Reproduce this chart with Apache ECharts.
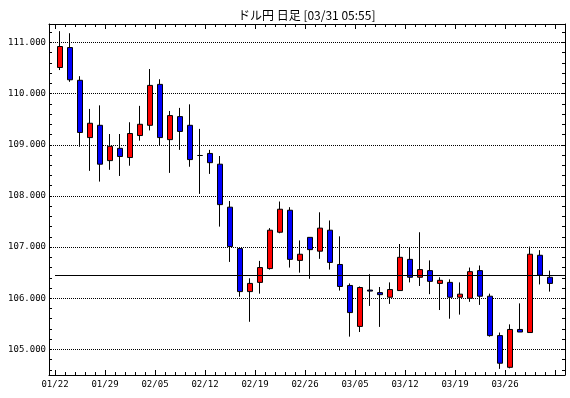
<!DOCTYPE html>
<html><head><meta charset="utf-8">
<script src="https://cdn.jsdelivr.net/npm/echarts@6.0.0/dist/echarts.min.js"></script>
<style>html,body{margin:0;padding:0;background:#fff}#c{width:570px;height:398px}</style>
</head><body><div id="c"></div>
<script>
const titleText = 'ドル円 日足 [03/31 05:55]';
const dates = ['01/22','01/23','01/24','01/25','01/26',
  '01/29','01/30','01/31','02/01','02/02',
  '02/05','02/06','02/07','02/08','02/09',
  '02/12','02/13','02/14','02/15','02/16',
  '02/19','02/20','02/21','02/22','02/23',
  '02/26','02/27','02/28','03/01','03/02',
  '03/05','03/06','03/07','03/08','03/09',
  '03/12','03/13','03/14','03/15','03/16',
  '03/19','03/20','03/21','03/22','03/23',
  '03/26','03/27','03/28','03/29','03/30'];
const openV  = [110.51,110.90,110.26,109.14,109.38, 108.69,108.93,108.75,109.18,109.38,
  110.18,109.10,109.55,109.38,108.79, 108.83,108.62,107.78,106.97,106.13,
  106.31,106.58,107.29,107.72,106.74, 107.19,106.92,107.33,106.66,106.25,
  105.45,106.16,106.11,106.02,106.15, 106.76,106.41,106.54,106.29,106.31,
  106.02,106.00,106.54,106.04,105.27, 104.65,105.39,105.33,106.84,106.41];
const closeV = [110.92,110.27,109.24,109.42,108.62, 108.97,108.77,109.22,109.40,110.16,
  109.14,109.57,109.26,108.71,108.79, 108.65,107.83,107.01,106.13,106.29,
  106.60,107.33,107.74,106.76,106.86, 106.95,107.37,106.70,106.23,105.72,
  106.21,106.14,106.07,106.17,106.80, 106.41,106.56,106.33,106.35,106.02,
  106.08,106.52,106.04,105.27,104.73, 105.39,105.34,106.86,106.45,106.29];
const lowV   = [110.46,110.23,108.96,108.49,108.28, 108.51,108.39,108.59,109.08,109.28,
  108.99,108.45,108.90,108.57,108.04, 108.43,107.40,106.71,106.03,105.54,
  106.09,106.56,107.27,106.60,106.50, 106.38,106.77,106.56,106.15,105.25,
  105.34,105.85,105.44,105.89,106.15, 106.31,106.24,106.08,105.77,105.60,
  105.68,105.93,105.87,105.25,104.62, 104.63,105.34,105.33,106.27,106.13];
const highV  = [111.22,111.18,110.34,109.70,109.77, 109.21,109.21,109.44,109.76,110.48,
  110.28,109.66,109.72,109.79,109.31, 108.90,108.78,107.90,106.98,106.39,
  106.73,107.37,107.89,107.78,107.13, 107.19,107.68,107.52,107.21,106.29,
  106.23,106.47,106.22,106.31,107.06, 106.99,107.29,106.74,106.41,106.37,
  106.31,106.60,106.64,106.09,105.33, 105.49,105.90,107.01,106.94,106.54];
const yLabelValues = [105,106,107,108,109,110,111];
const yMinorTicks = [104.6,104.8,105.0,105.2,105.4,105.6,105.8,106.0,106.2,106.4,106.6,106.8,
  107.0,107.2,107.4,107.6,107.8,108.0,108.2,108.4,108.6,108.8,109.0,109.2,109.4,109.6,109.8,
  110.0,110.2,110.4,110.6,110.8,111.0,111.2];
const lastPrice = 106.45;

const Y_MIN = 104.5, Y_MAX = 111.36;
const cats = dates.concat(['']);
const ohlc = dates.map((d, i) => [openV[i], closeV[i], lowV[i], highV[i]]);
const monoFont = 'DejaVu Sans Mono';
const black = '#000';

function frameX(pos) {
  return {gridIndex: 0, type: 'value', min: 0, max: 1, position: pos,
    axisLine: {show: true, onZero: false, lineStyle: {color: black, width: 1}},
    axisTick: {show: false}, axisLabel: {show: false}, splitLine: {show: false}};
}
function minorX(pos) {
  return {gridIndex: 1, type: 'category', data: cats, boundaryGap: true, position: pos,
    axisLine: {show: false, onZero: false},
    axisTick: {show: true, inside: true, length: 3, interval: 0, lineStyle: {color: black, width: 1}},
    axisLabel: {show: false}, splitLine: {show: false}};
}
function majorX(pos, showLabel) {
  return {gridIndex: 2, type: 'category', data: cats, boundaryGap: true, position: pos,
    axisLine: {show: false, onZero: false},
    axisTick: {show: true, inside: true, length: 5, interval: 4, alignWithLabel: true, lineStyle: {color: black, width: 1}},
    axisLabel: {show: showLabel, interval: 4, margin: 5, fontFamily: monoFont, fontSize: 9, color: black},
    splitLine: {show: false}};
}
function tickY(pos, showLabel) {
  return {gridIndex: 0, type: 'value', min: Y_MIN, max: Y_MAX, position: pos,
    axisLine: {show: true, onZero: false, lineStyle: {color: black, width: 1}},
    axisTick: {show: true, inside: true, length: 3, customValues: yMinorTicks, lineStyle: {color: black, width: 1}},
    axisLabel: {show: showLabel, customValues: yLabelValues, formatter: v => Number(v).toFixed(3),
      margin: 3, fontFamily: monoFont, fontSize: 9, color: black},
    splitLine: {show: false}};
}

const chart = echarts.init(document.getElementById('c'), null, {renderer: 'canvas'});
chart.setOption({
  animation: false,
  backgroundColor: '#fff',
  title: {text: titleText, left: 233, top: 4,
    textStyle: {fontFamily: 'Noto Sans CJK JP', fontSize: 12, fontWeight: 'normal', color: black}},
  grid: [
    {left: 49, top: 24, width: 516, height: 351},
    {left: 55, top: 24, width: 510, height: 351},
    {left: 50, top: 24, width: 510, height: 351}
  ],
  xAxis: [frameX('bottom'), frameX('top'), minorX('bottom'), minorX('top'), majorX('bottom', true), majorX('top', false)],
  yAxis: [
    tickY('left', true),
    tickY('right', false),
    {gridIndex: 0, type: 'value', min: Y_MIN, max: Y_MAX, position: 'left',
      axisLine: {show: false, onZero: false},
      axisTick: {show: false, customValues: yLabelValues},
      axisLabel: {show: false, customValues: yLabelValues},
      splitLine: {show: true, lineStyle: {color: black, width: 1, type: [1, 1]}}},
    {gridIndex: 1, type: 'value', min: Y_MIN, max: Y_MAX, show: false},
    {gridIndex: 2, type: 'value', min: Y_MIN, max: Y_MAX, show: false}
  ],
  series: [{
    type: 'candlestick', xAxisIndex: 2, yAxisIndex: 3, data: ohlc, barWidth: 6,
    itemStyle: {color: '#ff0000', color0: '#0000ff', borderColor: black, borderColor0: black,
      borderColorDoji: black, borderWidth: 1},
    markLine: {silent: true, symbol: 'none', label: {show: false}, animation: false,
      lineStyle: {color: black, type: 'solid', width: 1}, emphasis: {disabled: true},
      data: [{yAxis: lastPrice}]}
  }]
});
</script>
</body></html>
